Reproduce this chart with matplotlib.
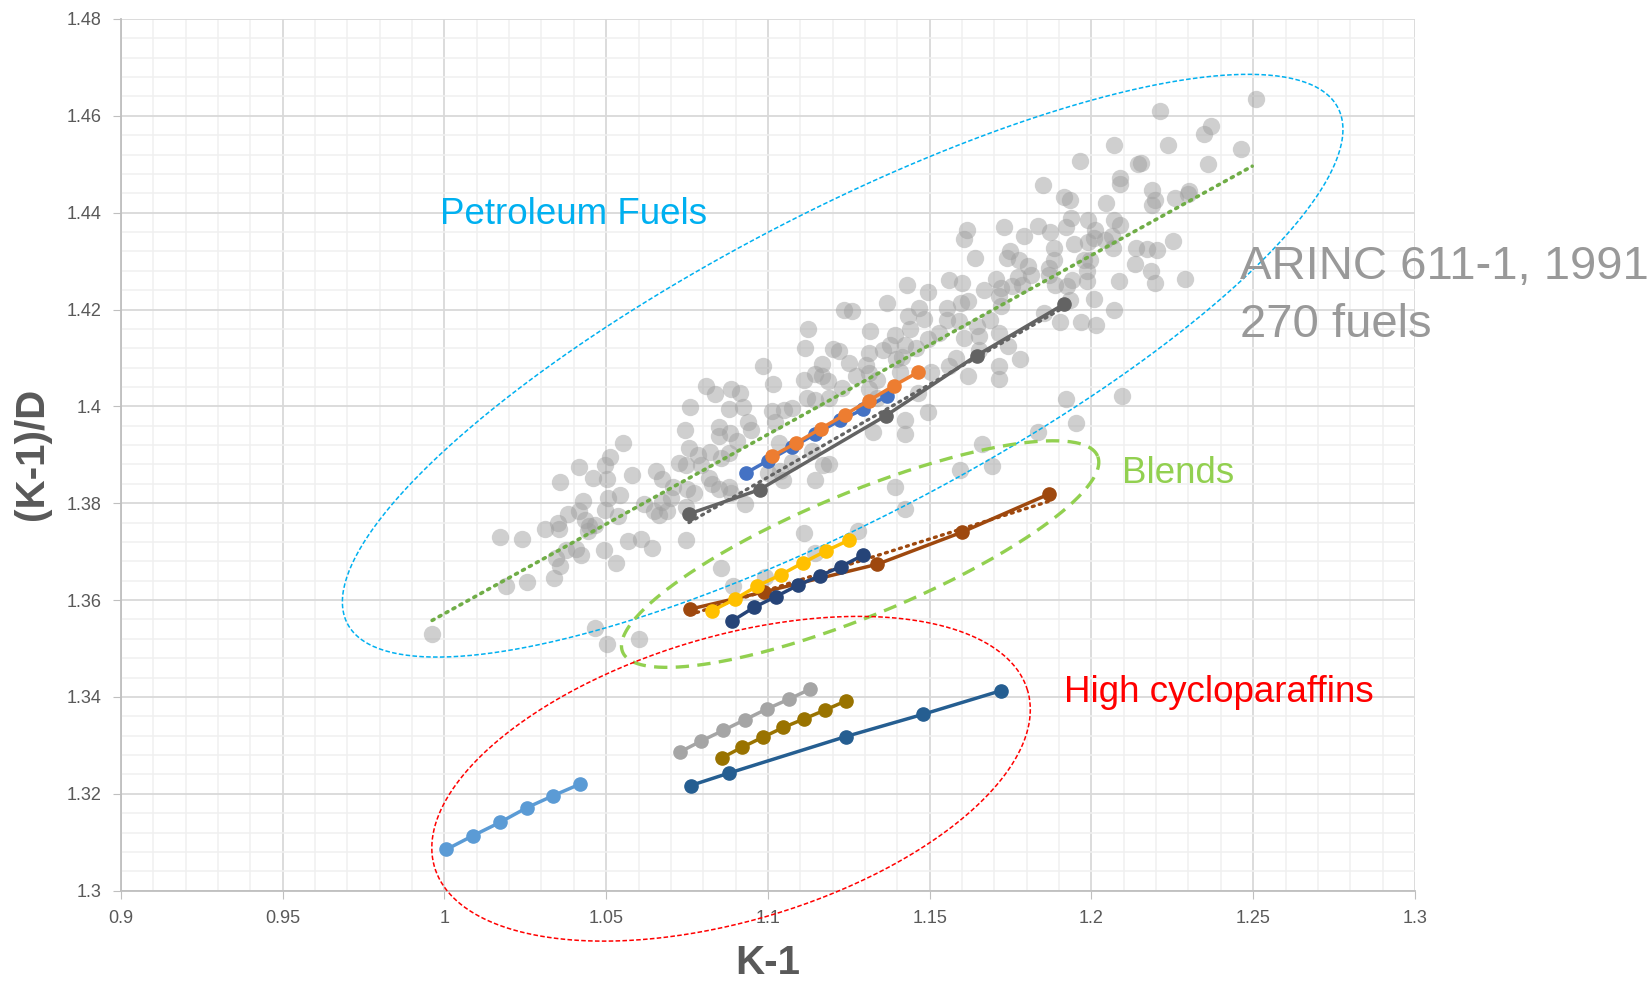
import numpy as np
import matplotlib
matplotlib.use("Agg")
import matplotlib.pyplot as plt
from matplotlib.ticker import MultipleLocator

plt.rcParams['font.family'] = ['Liberation Sans', 'DejaVu Sans']

# ARINC 611-1 (1991) fuels
arinc_x = [
    0.9962, 1.0172, 1.0239, 1.0189, 1.0256, 1.0356, 1.0312, 1.0351, 1.0354, 1.0381,
    1.0376, 1.0345, 1.0356, 1.0338, 1.0415, 1.0428, 1.0415, 1.0433, 1.0407, 1.0423,
    1.0448, 1.0443, 1.0466, 1.0459, 1.0495, 1.0512, 1.0503, 1.0505, 1.0495, 1.0493,
    1.0538, 1.0543, 1.0552, 1.0579, 1.0531, 1.0566, 1.0466, 1.0502, 1.0601,
    1.1125, 1.1115, 1.0984, 1.1017, 1.1112, 1.1146, 1.0810, 1.0836, 1.0887, 1.0915,
    1.0758, 1.0879, 1.0922, 1.1012, 1.1050, 1.1074, 1.1120, 1.1144, 1.1023, 1.0938,
    1.0948, 1.0743, 1.0850, 1.0848, 1.0884, 1.0905, 1.0756, 1.0784, 1.0822, 1.0856,
    1.0879, 1.0725, 1.0746, 1.0792, 1.0653, 1.0674, 1.0707, 1.0751, 1.0772, 1.0817,
    1.0826, 1.0848, 1.0879, 1.0887, 1.1033, 1.1038, 1.1000, 1.1046, 1.1074, 1.1146,
    1.1171, 1.1135, 1.0617, 1.0648, 1.0663, 1.0689, 1.0699, 1.0674, 1.0746, 1.0928,
    1.0607, 1.0641, 1.0746, 1.1113, 1.1146, 1.0856, 1.0891, 1.0992,
    1.1605, 1.1640, 1.1560, 1.1601, 1.1431, 1.1495, 1.1667, 1.1705, 1.1369, 1.1235,
    1.1261, 1.1466, 1.1433, 1.1482, 1.1554, 1.1597, 1.1618, 1.1554, 1.1592, 1.1685,
    1.1317, 1.1438, 1.1392, 1.1529, 1.1646, 1.1653, 1.1607, 1.1495, 1.1377, 1.1423,
    1.1459, 1.1356, 1.1200, 1.1221, 1.1313, 1.1651, 1.1413, 1.1167, 1.1251, 1.1302,
    1.1397, 1.1582, 1.1560, 1.1167, 1.1187, 1.1272, 1.1313, 1.1336, 1.1408, 1.1505,
    1.1618, 1.1228, 1.1313, 1.1336, 1.1190, 1.1464, 1.1423, 1.1495, 1.1326, 1.1423,
    1.1661, 1.1595, 1.1692, 1.1392, 1.1423, 1.1279, 1.1190, 1.1616,
    1.2069, 1.1964, 1.2143, 1.2087, 1.2087, 1.1849, 1.1914, 1.1935, 1.2046, 1.1729,
    1.1835, 1.1791, 1.1873, 1.1920, 1.1938, 1.1990, 1.2069, 1.2087, 1.2012, 1.2007,
    1.1990, 1.2043, 1.2064, 1.2066, 1.2138, 1.1883, 1.1945, 1.1749, 1.1738, 1.1777,
    1.1883, 1.1976, 1.1996, 1.2134, 1.1804, 1.1868, 1.1812, 1.1868, 1.1985, 1.1773,
    1.1784, 1.1719, 1.1755, 1.1887, 1.1923, 1.1941, 1.1985, 1.2085, 1.1935, 1.2007,
    1.1713, 1.1719, 1.1852, 1.1904, 1.1969, 1.2015, 1.2069, 1.1713, 1.1742, 1.1780,
    1.1713, 1.1713, 1.2093, 1.1922, 1.1953, 1.1834,
    1.2510, 1.2211, 1.2371, 1.2347, 1.2236, 1.2461, 1.2152, 1.2361, 1.2186, 1.2198,
    1.2186, 1.2258, 1.2303, 1.2299, 1.2172, 1.2203, 1.2253, 1.2184, 1.2197, 1.2289,
]
arinc_y = [
    1.3530, 1.3730, 1.3727, 1.3629, 1.3638, 1.3844, 1.3747, 1.3759, 1.3747, 1.3777,
    1.3704, 1.3687, 1.3670, 1.3646, 1.3874, 1.3805, 1.3783, 1.3766, 1.3706, 1.3694,
    1.3752, 1.3742, 1.3756, 1.3853, 1.3878, 1.3896, 1.3850, 1.3810, 1.3786, 1.3703,
    1.3773, 1.3816, 1.3924, 1.3858, 1.3676, 1.3722, 1.3542, 1.3510, 1.3520,
    1.4159, 1.4121, 1.4084, 1.4047, 1.4055, 1.4066, 1.4043, 1.4026, 1.4036, 1.4028,
    1.3999, 1.3994, 1.3998, 1.3990, 1.3993, 1.3997, 1.4017, 1.4014, 1.3967, 1.3967,
    1.3952, 1.3952, 1.3957, 1.3939, 1.3945, 1.3928, 1.3914, 1.3899, 1.3905, 1.3894,
    1.3903, 1.3884, 1.3879, 1.3879, 1.3866, 1.3850, 1.3834, 1.3829, 1.3821, 1.3853,
    1.3839, 1.3829, 1.3834, 1.3821, 1.3924, 1.3866, 1.3862, 1.3847, 1.3886, 1.3848,
    1.3879, 1.3907, 1.3799, 1.3783, 1.3776, 1.3784, 1.3810, 1.3803, 1.3793, 1.3799,
    1.3726, 1.3707, 1.3724, 1.3739, 1.3697, 1.3666, 1.3629, 1.3648,
    1.4345, 1.4307, 1.4261, 1.4255, 1.4250, 1.4236, 1.4241, 1.4263, 1.4214, 1.4199,
    1.4197, 1.4203, 1.4186, 1.4181, 1.4203, 1.4214, 1.4217, 1.4179, 1.4176, 1.4179,
    1.4155, 1.4159, 1.4148, 1.4152, 1.4166, 1.4145, 1.4141, 1.4139, 1.4126, 1.4126,
    1.4121, 1.4117, 1.4119, 1.4114, 1.4110, 1.4117, 1.4103, 1.4088, 1.4090, 1.4086,
    1.4097, 1.4100, 1.4083, 1.4062, 1.4052, 1.4062, 1.4069, 1.4055, 1.4072, 1.4072,
    1.4062, 1.4038, 1.4036, 1.4017, 1.4017, 1.4028, 1.3972, 1.3988, 1.3948, 1.3943,
    1.3923, 1.3869, 1.3876, 1.3834, 1.3788, 1.3743, 1.3881, 1.4365,
    1.4539, 1.4506, 1.4501, 1.4471, 1.4460, 1.4457, 1.4433, 1.4427, 1.4421, 1.4370,
    1.4373, 1.4351, 1.4361, 1.4371, 1.4390, 1.4385, 1.4385, 1.4375, 1.4364, 1.4347,
    1.4340, 1.4344, 1.4351, 1.4327, 1.4327, 1.4327, 1.4335, 1.4320, 1.4306, 1.4303,
    1.4303, 1.4303, 1.4303, 1.4295, 1.4289, 1.4286, 1.4272, 1.4272, 1.4279, 1.4268,
    1.4251, 1.4245, 1.4248, 1.4251, 1.4248, 1.4260, 1.4258, 1.4258, 1.4219, 1.4222,
    1.4227, 1.4207, 1.4193, 1.4174, 1.4174, 1.4168, 1.4200, 1.4152, 1.4125, 1.4097,
    1.4084, 1.4056, 1.4022, 1.4015, 1.3966, 1.3947,
    1.4634, 1.4611, 1.4578, 1.4563, 1.4539, 1.4532, 1.4503, 1.4501, 1.4447, 1.4427,
    1.4415, 1.4431, 1.4445, 1.4438, 1.4326, 1.4323, 1.4342, 1.4280, 1.4255, 1.4264,
]

# trend through the ARINC fuels (end points as drawn)
arinc_trend_x = [0.9962, 1.2497]
arinc_trend_y = [1.3558, 1.4496]

# petroleum-like series
dgray_x = [1.0756, 1.0974, 1.1365, 1.1645, 1.1915]
dgray_y = [1.3778, 1.3828, 1.3981, 1.4105, 1.4211]
blue_x = [1.0931, 1.1000, 1.1075, 1.1147, 1.1222, 1.1295, 1.1369]
blue_y = [1.3862, 1.3888, 1.3916, 1.3943, 1.3971, 1.3994, 1.4022]
orange_x = [1.1013, 1.1086, 1.1163, 1.1238, 1.1312, 1.1390, 1.1465]
orange_y = [1.3897, 1.3924, 1.3954, 1.3983, 1.4012, 1.4043, 1.4071]

# blends
brown_x = [1.0758, 1.0988, 1.1338, 1.1599, 1.1869]
brown_y = [1.3581, 1.3617, 1.3674, 1.3740, 1.3819]
yellow_x = [1.0828, 1.0898, 1.0967, 1.1039, 1.1108, 1.1178, 1.1251]
yellow_y = [1.3578, 1.3602, 1.3629, 1.3652, 1.3677, 1.3701, 1.3724]
navy_x = [1.0890, 1.0957, 1.1024, 1.1094, 1.1160, 1.1225, 1.1295]
navy_y = [1.3557, 1.3585, 1.3607, 1.3631, 1.3650, 1.3669, 1.3693]

# high cycloparaffins
lblue_x = [1.0006, 1.0087, 1.0172, 1.0254, 1.0336, 1.0419]
lblue_y = [1.3085, 1.3113, 1.3141, 1.3171, 1.3196, 1.3220]
lgray_x = [1.0727, 1.0794, 1.0862, 1.0929, 1.0996, 1.1064, 1.1130]
lgray_y = [1.3286, 1.3309, 1.3331, 1.3353, 1.3375, 1.3395, 1.3416]
olive_x = [1.0857, 1.0920, 1.0985, 1.1048, 1.1113, 1.1177, 1.1242]
olive_y = [1.3274, 1.3296, 1.3317, 1.3337, 1.3355, 1.3373, 1.3392]
steel_x = [1.0761, 1.0881, 1.1240, 1.1479, 1.1721]
steel_y = [1.3217, 1.3243, 1.3318, 1.3364, 1.3413]


def ring(ax, center, u, v, color, lw, dashes):
    # ellipse given by centre and two conjugate semi-axes (data units)
    t = np.linspace(0, 2 * np.pi, 400)
    x = center[0] + u[0] * np.cos(t) + v[0] * np.sin(t)
    y = center[1] + u[1] * np.cos(t) + v[1] * np.sin(t)
    ax.plot(x, y, color=color, lw=lw, dashes=dashes, clip_on=False, zorder=4)


def series(ax, x, y, color, trend=False):
    ax.plot(x, y, color=color, lw=2.5, marker='o', ms=9.5, zorder=6)
    if trend:
        k, b = np.polyfit(x, y, 1)
        xs = np.array([x[0], x[-1]])
        ax.plot(xs, k * xs + b, color=color, lw=2.4, ls=(0, (0.6, 1.6)),
                dash_capstyle='round', zorder=5)


fig = plt.figure(figsize=(16.52, 9.84), dpi=100)
ax = fig.add_axes([0.0732, 0.0949, 0.7833, 0.8858])

ax.set_xlim(0.9, 1.3)
ax.set_ylim(1.3, 1.48)
ax.xaxis.set_minor_locator(MultipleLocator(0.01))
ax.yaxis.set_minor_locator(MultipleLocator(0.004))
ax.set_xticks(np.arange(0.9, 1.3001, 0.05))
ax.set_xticklabels(['0.9', '0.95', '1', '1.05', '1.1', '1.15', '1.2', '1.25', '1.3'])
ax.set_yticks(np.arange(1.3, 1.4801, 0.02))
ax.set_yticklabels(['1.3', '1.32', '1.34', '1.36', '1.38', '1.4', '1.42', '1.44', '1.46', '1.48'])
ax.grid(which='major', color='#D9D9D9', lw=1.3)
ax.grid(which='minor', color='#F0F0F0', lw=1.1)
ax.set_axisbelow(True)
for s in ['top', 'right']:
    ax.spines[s].set_visible(False)
for s in ['left', 'bottom']:
    ax.spines[s].set_color('#BFBFBF')
    ax.spines[s].set_linewidth(1.3)
ax.tick_params(which='major', length=6, color='#BFBFBF', labelsize=13,
               labelcolor='#595959', pad=8)
ax.tick_params(which='minor', length=0)

ax.set_xlabel('K-1', fontsize=29, fontweight='bold', color='#595959', labelpad=12)
fig.text(32 / 1652, 0.5383, '(K-1)/D', rotation=90, fontsize=29,
         fontweight='bold', color='#595959', ha='center', va='center')

ax.plot(arinc_x, arinc_y, ls='none', marker='o', ms=12.5, mec='none',
        mfc='#A0A0A0', alpha=0.5, zorder=3)
ax.plot(arinc_trend_x, arinc_trend_y, color='#70AD47', lw=2.6,
        ls=(0, (0.6, 1.6)), dash_capstyle='round', zorder=5)

series(ax, dgray_x, dgray_y, '#636363', trend=True)
series(ax, blue_x, blue_y, '#4472C4')
series(ax, orange_x, orange_y, '#ED7D31')
series(ax, brown_x, brown_y, '#9E480E', trend=True)
series(ax, yellow_x, yellow_y, '#FFC000')
series(ax, navy_x, navy_y, '#264478')
series(ax, lblue_x, lblue_y, '#5B9BD5')
series(ax, lgray_x, lgray_y, '#A5A5A5')
series(ax, olive_x, olive_y, '#997300')
series(ax, steel_x, steel_y, '#255E91')

ring(ax, (1.1231, 1.4084), (0.1531, 0.05326), (-0.02180, 0.02800), '#00B0F0', 1.1, (3, 1.5))
ring(ax, (1.1285, 1.3695), (0.07342, 0.02022), (-0.00726, 0.01177), '#92D050', 2.4, (4, 2.5))
ring(ax, (1.0886, 1.3231), (0.09165, 0.01826), (-0.01254, 0.02812), '#FF0000', 1.1, (3, 1.5))

ax.text(0.9987, 1.4397, 'Petroleum Fuels', color='#00B0F0', fontsize=26.5,
        ha='left', va='center', zorder=7)
ax.text(1.2094, 1.3862, 'Blends', color='#92D050', fontsize=26.5,
        ha='left', va='center', zorder=7)
ax.text(1.1915, 1.3409, 'High cycloparaffins', color='#FF0000', fontsize=26.5,
        ha='left', va='center', zorder=7)
ax.text(1.2459, 1.4288, 'ARINC 611-1, 1991', color='#999999', fontsize=34,
        ha='left', va='center', clip_on=False, zorder=7)
ax.text(1.2459, 1.4169, '270 fuels', color='#999999', fontsize=34,
        ha='left', va='center', clip_on=False, zorder=7)

fig.savefig('out.png', dpi=100)
